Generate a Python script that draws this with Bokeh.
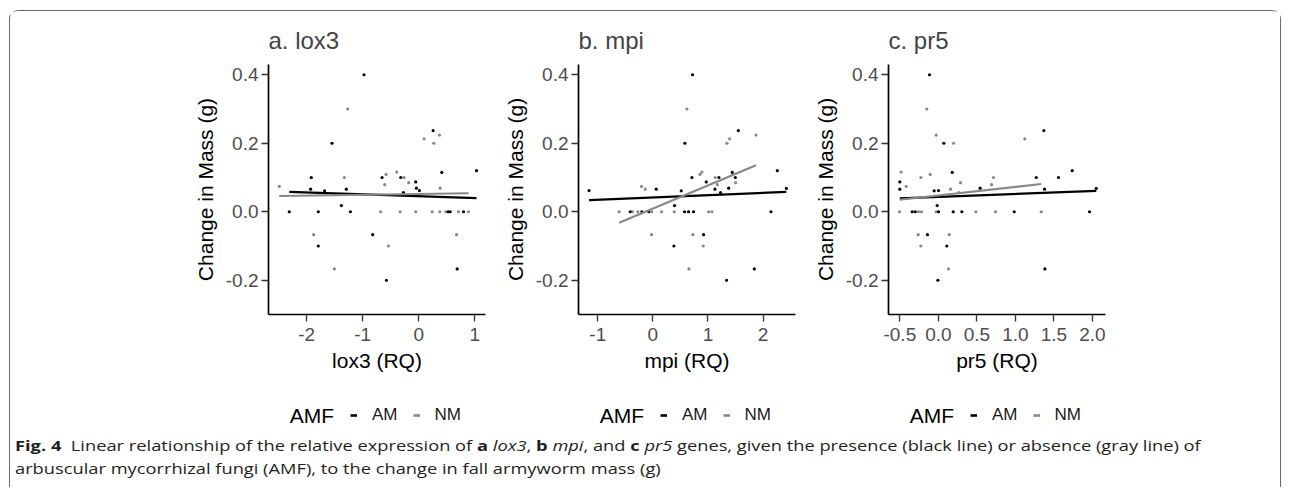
from bokeh.plotting import figure
from bokeh.models import (FixedTicker, PrintfTickFormatter, Legend, LegendItem,
                          Range1d, Div, Spacer, Label)
from bokeh.layouts import row, column
from bokeh.embed import file_html
from bokeh.resources import INLINE

# ---------------- data ----------------
lox3_am_x = [-0.976, -1.548, -1.917, -1.929, -1.679, -1.292, -1.381, -2.31, -1.792, -1.22,
             -0.821, -1.792, -0.577, -0.655, -0.321, -0.274, -0.054, -0.042, 0.012, 0.256,
             0.411, 1.03, 0.524, 0.56, 0.798, 0.685]
lox3_am_y = [0.4, 0.2, 0.1, 0.066, 0.061, 0.066, 0.018, 0, 0, 0,
             -0.067, -0.1, -0.2, 0.1, 0.1, 0.056, 0.087, 0.069, 0.062, 0.237,
             0.115, 0.12, 0, 0, 0, -0.167]
lox3_nm_x = [-2.488, -1.268, -1.327, -1.875, -1.506, -0.679, -0.542, -0.583, -0.607, -0.393,
             -0.262, -0.179, -0.333, -0.054, 0.095, 0.268, 0.369, 0.381, 0.238, 0.375,
             0.482, 0.708, 0.887, 0.673]
lox3_nm_y = [0.074, 0.3, 0.1, -0.067, -0.167, 0, -0.1, 0.109, 0.079, 0.116,
             0.1, 0.085, 0, 0, 0.213, 0.2, 0.224, 0.069, 0, 0,
             0, 0, 0, -0.067]
lox3_fit_am_x = [-2.31, 1.03]
lox3_fit_am_y = [0.058, 0.040]
lox3_fit_nm_x = [-2.488, 0.887]
lox3_fit_nm_y = [0.046, 0.054]

mpi_am_x = [0.721, 0.582, 1.552, -1.158, 0.061, 0.515, 0.394, 0.709, 0.97, 1.2,
            1.127, 1.23, 1.376, 1.442, 1.497, 2.26, 2.424, -0.412, -0.2, -0.073,
            0.576, 0.648, 0.739, 2.145, 0.921, 0.382, 1.339, 1.842]
mpi_am_y = [0.4, 0.2, 0.237, 0.062, 0.066, 0.061, 0.018, 0.1, 0.087, 0.1,
            0.066, 0.056, 0.069, 0.115, 0.1, 0.12, 0.068, 0, 0, 0,
            0, 0, 0, 0, -0.067, -0.1, -0.2, -0.167]
mpi_nm_x = [0.618, 1.345, 1.394, 1.873, -0.206, -0.139, 0.855, 0.891, 1.133, 1.17,
            1.503, -0.612, -0.37, -0.273, -0.018, 0.158, 0.388, 1.012, 1.073, -0.024,
            0.727, 0.915, 0.655]
mpi_nm_y = [0.3, 0.2, 0.213, 0.224, 0.074, 0.066, 0.109, 0.116, 0.1, 0.079,
            0.085, 0, 0, 0, 0, 0, 0, 0, 0, -0.067,
            -0.067, -0.1, -0.167]
mpi_fit_am_x = [-1.158, 2.424]
mpi_fit_am_y = [0.034, 0.058]
mpi_fit_nm_x = [-0.612, 1.873]
mpi_fit_nm_y = [-0.032, 0.136]

pr5_am_x = [-0.115, 0.071, 1.37, -0.5, -0.5, -0.054, 0.002, -0.015, 0.18, 0.543,
            1.271, 1.379, 1.56, 1.738, 2.05, -0.34, -0.30, 0.002, 0.193, 0.305,
            0.985, 1.963, -0.141, 0.11, -0.006, 1.383]
pr5_am_y = [0.4, 0.2, 0.237, 0.087, 0.066, 0.061, 0.062, 0.018, 0.115, 0.069,
            0.1, 0.066, 0.1, 0.12, 0.068, 0, 0, 0, 0, 0,
            0, 0, -0.067, -0.1, -0.2, -0.167]
pr5_nm_x = [-0.149, -0.028, 0.197, 1.123, -0.483, -0.418, -0.227, -0.106, 0.158, 0.288,
            0.716, 0.69, 0.266, -0.504, -0.258, -0.219, -0.028, 0.487, 0.742, 1.335,
            -0.262, 0.141, -0.227, 0.132]
pr5_nm_y = [0.3, 0.224, 0.2, 0.213, 0.116, 0.074, 0.1, 0.109, 0.066, 0.085,
            0.1, 0.079, 0.056, 0, 0, 0, 0, 0, 0, 0,
            -0.067, -0.067, -0.1, -0.167]
pr5_fit_am_x = [-0.5, 2.05]
pr5_fit_am_y = [0.039, 0.061]
pr5_fit_nm_x = [-0.504, 1.335]
pr5_fit_nm_y = [0.035, 0.081]

y_ticks = [-0.2, 0.0, 0.2, 0.4]
lox3_ticks = [-2, -1, 0, 1]
mpi_ticks = [-1, 0, 1, 2]
pr5_ticks = [-0.5, 0.0, 0.5, 1.0, 1.5, 2.0]

titles = ["a. lox3", "b. mpi", "c. pr5"]
xlabels = ["lox3 (RQ)", "mpi (RQ)", "pr5 (RQ)"]
legend_title = "AMF"
groups = ["AM", "NM"]

FONT = "Liberation Sans"
AM_COL = "#000000"
NM_COL = "#888888"


def make_panel(title, xlabel, amx, amy, nmx, nmy, fax, fay, fnx, fny,
               xr, xticks, xfmt, width, bl, br):
    p = figure(width=width, height=376, output_backend="svg", toolbar_location=None,
               x_range=Range1d(*xr), y_range=Range1d(-0.30, 0.43),
               min_border_left=bl, min_border_right=br, min_border_top=53,
               min_border_bottom=73)
    p.title.text = title
    p.title.text_font = FONT
    p.title.text_font_size = "24px"
    p.title.text_font_style = "normal"
    p.title.align = "left"
    p.title.standoff = 22
    p.grid.visible = False
    p.outline_line_color = None

    for ax in (p.xaxis[0], p.yaxis[0]):
        ax.axis_line_color = "black"
        ax.axis_line_width = 1.7
        ax.major_tick_line_color = "#333333"
        ax.major_tick_line_width = 1.3
        ax.major_tick_out = 7
        ax.major_tick_in = 0
        ax.minor_tick_line_color = None
        ax.major_label_text_font = FONT
        ax.major_label_text_font_size = "19px"
        ax.major_label_text_color = "#4d4d4d"
        ax.axis_label_text_font = FONT
        ax.axis_label_text_font_size = "21px"
        ax.axis_label_text_font_style = "normal"
        ax.axis_label_text_color = "black"
    p.yaxis[0].ticker = FixedTicker(ticks=y_ticks)
    p.yaxis[0].formatter = PrintfTickFormatter(format="%.1f")
    p.yaxis[0].axis_label = "Change in Mass (g)"
    p.yaxis[0].major_label_standoff = 3
    p.yaxis[0].axis_label_standoff = 6
    p.xaxis[0].ticker = FixedTicker(ticks=xticks)
    p.xaxis[0].formatter = PrintfTickFormatter(format=xfmt)
    p.xaxis[0].axis_label = xlabel
    p.xaxis[0].major_label_standoff = 6
    p.xaxis[0].axis_label_standoff = 5

    p.scatter(nmx, nmy, size=3.2, color=NM_COL, line_color=None)
    p.scatter(amx, amy, size=3.2, color=AM_COL, line_color=None)
    p.line(fax, fay, line_color=AM_COL, line_width=2.2)
    p.line(fnx, fny, line_color=NM_COL, line_width=2.2)
    return p


def make_legend(fax, fay, fnx, fny, width, bl, br):
    # legend strip under a panel; its frame spans the same width as the panel.
    # Its y range lies far above the data, so the fitted lines drawn here are not
    # visible and only supply the legend keys.
    q = figure(width=width, height=40, output_backend="svg", toolbar_location=None,
               x_range=Range1d(0, 1), y_range=Range1d(10, 11),
               x_axis_type=None, y_axis_type=None,
               min_border_left=bl, min_border_right=br, min_border_top=0,
               min_border_bottom=0)
    q.grid.visible = False
    q.outline_line_color = None
    q.background_fill_alpha = 0
    r_am = q.line(fax, fay, line_color=AM_COL, line_width=2.6)
    r_nm = q.line(fnx, fny, line_color=NM_COL, line_width=2.6)
    leg = Legend(items=[LegendItem(label=groups[0], renderers=[r_am]),
                        LegendItem(label=groups[1], renderers=[r_nm])],
                 orientation="horizontal", location=(82, 2))
    leg.label_text_font = FONT
    leg.label_text_font_size = "17px"
    leg.label_text_color = "#1a1a1a"
    leg.glyph_width = 7
    leg.glyph_height = 14
    leg.label_standoff = 15
    leg.spacing = 15
    leg.border_line_color = None
    leg.background_fill_alpha = 0
    leg.margin = 0
    leg.padding = 0
    q.add_layout(leg)
    q.add_layout(Label(x=0.098, y=10.29, text=legend_title, text_font=FONT,
                       text_font_size="21px", text_baseline="middle",
                       text_color="black"))
    return q


specs = [
    (titles[0], xlabels[0], lox3_am_x, lox3_am_y, lox3_nm_x, lox3_nm_y,
     lox3_fit_am_x, lox3_fit_am_y, lox3_fit_nm_x, lox3_fit_nm_y,
     (-2.68, 1.19), lox3_ticks, "%d", 488, 258, 13),
    (titles[1], xlabels[1], mpi_am_x, mpi_am_y, mpi_nm_x, mpi_nm_y,
     mpi_fit_am_x, mpi_fit_am_y, mpi_fit_nm_x, mpi_fit_nm_y,
     (-1.35, 2.59), mpi_ticks, "%d", 310, 80, 13),
    (titles[2], xlabels[2], pr5_am_x, pr5_am_y, pr5_nm_x, pr5_nm_y,
     pr5_fit_am_x, pr5_fit_am_y, pr5_fit_nm_x, pr5_fit_nm_y,
     (-0.647, 2.17), pr5_ticks, "%.1f", 472, 80, 175),
]
cols = []
for s in specs:
    leg_fig = make_legend(s[6], s[7], s[8], s[9], s[-3], s[-2], s[-1])
    cols.append(column(make_panel(*s), leg_fig))

caption = Div(
    text=('<b>Fig.&nbsp;4</b>&nbsp; Linear relationship of the relative expression of '
          '<b>a</b> <i>lox3</i>, <b>b</b> <i>mpi</i>, and <b>c</b> <i>pr5</i> genes, '
          'given the presence (black line) or absence (gray line) of<br>'
          'arbuscular mycorrhizal fungi (AMF), to the change in fall armyworm mass (g)'),
    width=1000, height=50,
    styles={"font-family": "Open Sans", "font-size": "14.5px", "line-height": "22.5px",
            "color": "#231f20", "white-space": "nowrap", "padding-left": "0px",
            "padding-top": "3px",
            "transform": "scaleX(1.26)", "transform-origin": "left top"})

framed = column(row(*cols), caption,
                styles={"border-top": "1.7px solid #6b6b6b",
                        "border-left": "1.7px solid #6b6b6b",
                        "border-right": "1.7px solid #6b6b6b",
                        "border-top-left-radius": "9px",
                        "border-top-right-radius": "9px"})

layout = column(Spacer(height=10), row(Spacer(width=9), framed))

open("out.html", "w").write(file_html(layout, INLINE))
